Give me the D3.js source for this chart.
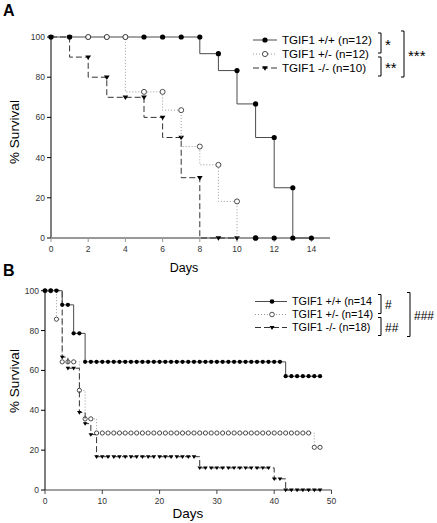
<!DOCTYPE html>
<html><head><meta charset="utf-8">
<script src="https://cdn.jsdelivr.net/npm/d3@7"></script>
<style>html,body{margin:0;padding:0;background:#fff;} svg{display:block;font-family:"Liberation Sans",Arial,sans-serif;}</style>
</head><body>
<script>
// ---------- Panel A data ----------
const daysA = [0,1,2,3,4,5,6,7,8,9,10,11,12,13,14];
const wtA   = [100,100,100,100,100,100,100,100,100,91.7,83.3,66.7,50,25,0];
const hetDaysA = [2,3,4,5,6,7,8,9,10,11];
const hetA     = [100,100,100,72.7,72.7,63.6,45.5,36.4,18.2,0];
const koDaysA  = [0,1,2,3,4,5,6,7,8,9,10];
const koA      = [100,100,90,80,70,70,60,50,30,0,0];
const wtZeroDaysA = [11,12,13];
const ticksAx = [0,2,4,6,8,10,12,14];
const ticksY  = [0,20,40,60,80,100];
const legendA = ["TGIF1 +/+ (n=12)","TGIF1 +/- (n=12)","TGIF1 -/- (n=10)"];
const sigA = ["*","**","***"];

// ---------- Panel B data ----------
const daysB = d3.range(0,49);
const wtB  = [100,100,100,92.9,92.9,78.6,78.6,
  64.3,64.3,64.3,64.3,64.3,64.3,64.3,64.3,64.3,64.3,64.3,64.3,64.3,64.3,64.3,64.3,64.3,64.3,64.3,64.3,64.3,64.3,64.3,64.3,64.3,64.3,64.3,64.3,64.3,64.3,64.3,64.3,64.3,64.3,64.3,
  57.1,57.1,57.1,57.1,57.1,57.1,57.1];
const hetB = [100,100,85.7,64.3,64.3,64.3,50,35.7,35.7,
  28.6,28.6,28.6,28.6,28.6,28.6,28.6,28.6,28.6,28.6,28.6,28.6,28.6,28.6,28.6,28.6,28.6,28.6,28.6,28.6,28.6,28.6,28.6,28.6,28.6,28.6,28.6,28.6,28.6,28.6,28.6,28.6,28.6,28.6,28.6,28.6,28.6,28.6,
  21.4,21.4];
const koB  = [100,100,100,66.7,61.1,61.1,38.9,33.3,27.8,
  16.7,16.7,16.7,16.7,16.7,16.7,16.7,16.7,16.7,16.7,16.7,16.7,16.7,16.7,16.7,16.7,16.7,16.7,
  11.1,11.1,11.1,11.1,11.1,11.1,11.1,11.1,11.1,11.1,11.1,11.1,11.1,
  5.6,5.6,
  0,0,0,0,0,0,0];
const ticksBx = [0,10,20,30,40,50];
const legendB = ["TGIF1 +/+ (n=14","TGIF1 +/- (n=14)","TGIF1 -/- (n=18)"];
const sigB = ["#","##","###"];

const svg = d3.select("body").append("svg").attr("width",437).attr("height",523);

function tri(s){ return `M${-s},${-s*0.6}L${s},${-s*0.6}L0,${s*0.95}Z`; }

const styles = {
  wt:  {stroke:"#4a4a4a", dash:null, w:1},
  het: {stroke:"#9a9a9a", dash:"1,2", w:1},
  ko:  {stroke:"#333", dash:"6,3", w:1}
};

function series(g, x, y, days, vals, kind, curve, r){
  const pts = days.map((d,i)=>[d, vals[i]]);
  const st = styles[kind];
  g.append("path").attr("d", d3.line().x(p=>x(p[0])).y(p=>y(p[1])).curve(curve)(pts))
    .attr("fill","none").attr("stroke",st.stroke).attr("stroke-width",st.w)
    .attr("stroke-dasharray",st.dash);
  marks(g, x, y, pts, kind, r);
}
function marks(g, x, y, pts, kind, r){
  const sel = g.append("g").selectAll("path").data(pts).join("path")
    .attr("transform",p=>`translate(${x(p[0])},${y(p[1])})`);
  if (kind==="wt") sel.attr("d", d3.symbol(d3.symbolCircle, Math.PI*r*r)()).attr("fill","#000");
  else if (kind==="het") sel.attr("d", d3.symbol(d3.symbolCircle, Math.PI*r*r)()).attr("fill","#fff").attr("stroke","#222").attr("stroke-width",0.8);
  else sel.attr("d", tri(r*1.1)).attr("fill","#000");
}

function axes(g, x, y, xticks, xAxisColor, xAxisW, xEnd, labelSize){
  const [x0] = x.range();
  const [y0, y1] = y.range();
  g.append("line").attr("x1",x0).attr("x2",x0).attr("y1",y0).attr("y2",y1).attr("stroke","#000");
  ticksY.forEach(t=>{
    g.append("line").attr("x1",x0-4).attr("x2",x0).attr("y1",y(t)).attr("y2",y(t)).attr("stroke","#000");
    g.append("text").attr("x",x0-6).attr("y",y(t)).attr("dy","0.35em").attr("text-anchor","end")
      .attr("font-size",labelSize).attr("fill","#333").text(t);
  });
  g.append("line").attr("x1",x0).attr("x2",xEnd).attr("y1",y0).attr("y2",y0)
    .attr("stroke",xAxisColor).attr("stroke-width",xAxisW);
  xticks.forEach(t=>{
    g.append("line").attr("x1",x(t)).attr("x2",x(t)).attr("y1",y0).attr("y2",y0+4).attr("stroke",xAxisColor);
    g.append("text").attr("x",x(t)).attr("y",y0+11).attr("dy","0.35em").attr("text-anchor","middle")
      .attr("font-size",labelSize).attr("fill","#333").text(t);
  });
}

function legend(g, x0, xm, x1, xt, ys, labels, fs, r, sig, bx, bigx, sfs){
  const kinds = ["wt","het","ko"];
  kinds.forEach((k,i)=>{
    const st = styles[k];
    g.append("line").attr("x1",x0).attr("x2",x1).attr("y1",ys[i]).attr("y2",ys[i])
      .attr("stroke",st.stroke).attr("stroke-dasharray",st.dash).attr("stroke-width",1);
    marks(g, v=>v, v=>v, [[xm, ys[i]]], k, r);
    g.append("text").attr("x",xt).attr("y",ys[i]).attr("dy","0.36em").attr("font-size",fs)
      .attr("fill","#000").text(labels[i]);
  });
  const br = (xx, ya, yb) => g.append("path")
    .attr("d",`M${xx-3},${ya}H${xx}V${yb}H${xx-3}`).attr("fill","none").attr("stroke","#000").attr("stroke-width",1);
  const m1 = ys[0]-7, m2 = ys[1]-1, m3 = ys[1]+3, m4 = ys[2]+8;
  br(bx, m1, m2);
  br(bx, m3, m4);
  br(bigx, m1-2, m4+1);
  g.append("text").attr("x",bx+4).attr("y",(m1+m2)/2).attr("dy","0.45em").attr("font-size",sfs).text(sig[0]);
  g.append("text").attr("x",bx+4).attr("y",(m3+m4)/2).attr("dy","0.45em").attr("font-size",sfs).text(sig[1]);
  g.append("text").attr("x",bigx+4).attr("y",(m1+m4)/2).attr("dy","0.45em").attr("font-size",sfs).text(sig[2]);
}

// ---------- Panel A ----------
{
  const g = svg.append("g");
  const x = d3.scaleLinear().domain([0,15]).range([51,330]);
  const y = d3.scaleLinear().domain([0,100]).range([238,37]);
  axes(g, x, y, ticksAx, "#999", 2, x(15), 8.5);
  series(g, x, y, koDaysA, koA, "ko", d3.curveStepBefore, 2.6);
  series(g, x, y, daysA, wtA, "wt", d3.curveStepBefore, 2.6);
  series(g, x, y, hetDaysA, hetA, "het", d3.curveStepBefore, 2.5);
  marks(g, x, y, wtZeroDaysA.map(d=>[d,0]), "wt", 2.6);
  g.append("text").attr("x",3).attr("y",16).attr("font-size",16).attr("font-weight","bold").text("A");
  g.append("text").attr("transform","translate(19,132) rotate(-90)").attr("text-anchor","middle")
    .attr("font-size",13.5).text("% Survival");
  g.append("text").attr("x",184).attr("y",272).attr("text-anchor","middle").attr("font-size",12.5).text("Days");
  legend(g, 253, 265, 277, 282, [40,54,68], legendA, 11.6, 2.6, sigA, 381, 404, 15);
}

// ---------- Panel B ----------
{
  const g = svg.append("g");
  const x = d3.scaleLinear().domain([0,50]).range([45,331.5]);
  const y = d3.scaleLinear().domain([0,100]).range([490,290.7]);
  axes(g, x, y, ticksBx, "#444", 1, x(50), 8.5);
  series(g, x, y, daysB, hetB, "het", d3.curveStepAfter, 2.1);
  series(g, x, y, daysB, koB, "ko", d3.curveStepAfter, 2.1);
  series(g, x, y, daysB, wtB, "wt", d3.curveStepAfter, 2.1);
  g.append("text").attr("x",3).attr("y",276).attr("font-size",16).attr("font-weight","bold").text("B");
  g.append("text").attr("transform","translate(19,381) rotate(-90)").attr("text-anchor","middle")
    .attr("font-size",13.5).text("% Survival");
  g.append("text").attr("x",188).attr("y",518).attr("text-anchor","middle").attr("font-size",13.5).text("Days");
  legend(g, 255, 272, 287, 292, [301.5,314.5,327.5], legendB, 10.8, 2.3, sigB, 381, 410, 12);
}
</script>
</body></html>
